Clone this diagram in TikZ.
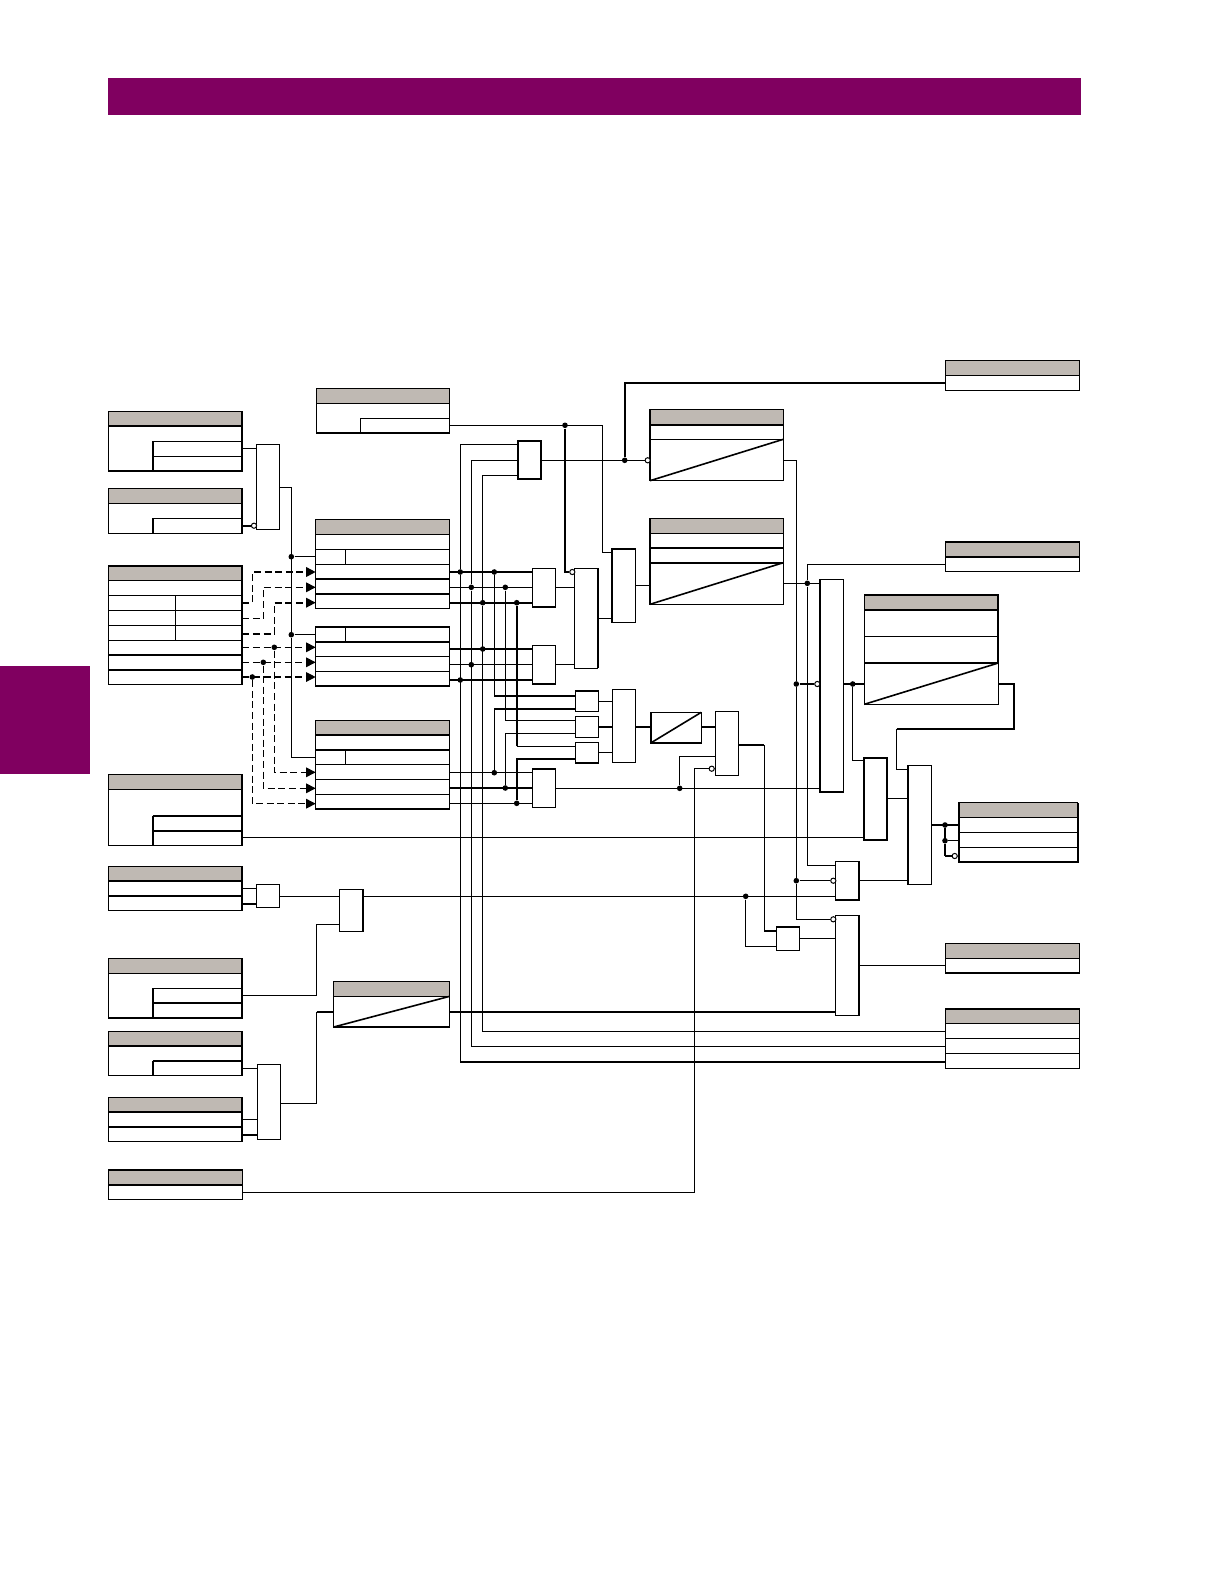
\documentclass[tikz,border=0pt]{standalone}
\usepackage{amsmath, amssymb}
\usetikzlibrary{calc,arrows.meta}
\definecolor{bandplum}{HTML}{800060}
\definecolor{headgray}{HTML}{BFB9B3}
\tikzset{
  wire/.style={line width=0.55pt},
  heavy/.style={line width=1pt},
  ramp/.style={line width=0.8pt},
  dashwire/.style={line width=0.6pt, dash pattern=on 3.5pt off 1.8pt},
  gatebox/.style={draw, line width=0.55pt, inner sep=0pt, outer sep=0pt},
  tableframe/.style={draw, line width=0.6pt, inner sep=0pt, outer sep=0pt},
  jdot/.style={circle, fill=black, inner sep=0pt, minimum size=2.8pt},
  bubble/.style={circle, draw, fill=white, line width=0.5pt, inner sep=0pt, minimum size=2.6pt},
}
% name, x1, y1, x2, y2
\newcommand{\gatebox}[6][]{%
  \node[gatebox, #1, minimum width={(#5-#3)*0.5pt}, minimum height={(#6-#4)*0.5pt}]
    (#2) at ({(#3+#5)/2},{(#4+#6)/2}) {};}
% name, x1, y1, x2, y2, bottom of the header
\newcommand{\tablebox}[7][headgray]{%
  \fill[#1] (#3,#4) rectangle (#5,#7);
  \node[tableframe, minimum width={(#5-#3)*0.5pt}, minimum height={(#6-#4)*0.5pt}]
    (#2) at ({(#3+#5)/2},{(#4+#6)/2}) {};
  \draw[wire] (#2.west |- 0,#7) -- (#2.east |- 0,#7);}
\newcommand{\tablerows}[3][wire]{%
  \foreach \rowY in {#3} \draw[#1] (#2.west |- 0,\rowY) -- (#2.east |- 0,\rowY);}
\begin{document}
\begin{tikzpicture}[x=0.5pt, y=-0.5pt, >={Triangle[length=4.8pt, width=4.8pt]}]
    \useasboundingbox (0,0) rectangle (1224,1584);
    % --- 1. Parameters ---
    \def\leftX{108.3}
    \def\leftW{242.3}
    \def\subX{152.7}
    \def\midX{315.7}
    \def\midW{449.7}
    \def\cellX{345.7}
    \def\rightX{945.3}
    \def\rightW{1079.7}
    % --- 2. Page band and tab ---
    \fill[bandplum] (108,78) rectangle (1081,115);
    \fill[bandplum] (0,666) rectangle (90,773.7);
    % --- 3. Tables, left column ---
    \tablebox{tA}{\leftX}{411.7}{\leftW}{470.7}{426}
    \foreach \rowY in {441.3,456.3} \draw[wire] (\subX,\rowY) -- (tA.east |- 0,\rowY);
    \draw[heavy] (\subX,441.3) -- (\subX,470.7);
    \draw[heavy] (tA.north east) -- (tA.south east) -- (tA.south west);
    \tablebox{tB}{\leftX}{488.7}{\leftW}{533.3}{503.3}
    \draw[wire] (\subX,518.3) -- (tB.east |- 0,518.3);
    \draw[heavy] (\subX,518.3) -- (\subX,533.3);
    \draw[heavy] (tB.north east) -- (tB.south east);
    \tablebox{tC}{\leftX}{566}{\leftW}{684.3}{580.3}
    \tablerows{tC}{595.3,610.3,625.3,640.3}
    \tablerows[heavy]{tC}{655.3,670}
    \draw[wire] (175.3,595.3) -- (175.3,640.3);
    \draw[heavy] (tC.north west) -- (tC.north east) -- (tC.south east);
    \tablebox{tD}{\leftX}{774.7}{\leftW}{845.3}{789.3}
    \foreach \rowY in {816,831} \draw[heavy] (\subX,\rowY) -- (tD.east |- 0,\rowY);
    \draw[heavy] (\subX,816) -- (\subX,845.3);
    \draw[heavy] (tD.north east) -- (tD.south east);
    \tablebox{tE}{\leftX}{866.7}{\leftW}{910.3}{881}
    \tablerows[heavy]{tE}{881,896}
    \draw[heavy] (tE.north east) -- (tE.south east);
    \tablebox{tF}{\leftX}{958.3}{\leftW}{1017.7}{973.3}
    \draw[wire] (\subX,988.3) -- (tF.east |- 0,988.3);
    \draw[heavy] (\subX,1003) -- (tF.east |- 0,1003);
    \draw[heavy] (\subX,988.3) -- (\subX,1017.7);
    \draw[heavy] (tF.north east) -- (tF.south east) -- (tF.south west);
    \tablebox{tG}{\leftX}{1031.3}{\leftW}{1075.3}{1046}
    \tablerows[heavy]{tG}{1046}
    \draw[heavy] (\subX,1060.7) -- (tG.east |- 0,1060.7);
    \draw[heavy] (\subX,1060.7) -- (\subX,1075.3);
    \draw[heavy] (tG.north east) -- (tG.south east);
    \tablebox{tH}{\leftX}{1097.3}{\leftW}{1141.3}{1112}
    \tablerows[heavy]{tH}{1112,1126.7}
    \draw[heavy] (tH.north east) -- (tH.south east);
    \tablebox{tJ}{\leftX}{1170}{\leftW}{1199.3}{1185}
    \tablerows[heavy]{tJ}{1185}
    \draw[heavy] (tJ.north west) -- (tJ.north east);
    % --- 4. Tables, middle column ---
    \tablebox{tTop}{316.7}{388.7}{\midW}{433}{403.3}
    \draw[wire] (360.3,418.3) -- (tTop.east |- 0,418.3);
    \draw[wire] (360.3,418.3) -- (360.3,433);
    \draw[heavy] (tTop.south west) -- (tTop.south east);
    \tablebox{tK}{\midX}{519.7}{\midW}{608.3}{534.3}
    \tablerows{tK}{549.3,564.3}
    \tablerows[heavy]{tK}{579,594}
    \draw[wire] (\cellX,549.3) -- (\cellX,564.3);
    \tablebox[white]{tL}{\midX}{627}{\midW}{686}{641.7}
    \tablerows[heavy]{tL}{641.7}
    \tablerows{tL}{656.3,671.3}
    \draw[wire] (\cellX,627) -- (\cellX,641.7);
    \draw[heavy] (tL.north west) -- (tL.north east);
    \tablebox{tM}{\midX}{720.7}{\midW}{809}{734.7}
    \tablerows[heavy]{tM}{734.7,749.7}
    \tablerows{tM}{764.3,779.3,794.3}
    \draw[wire] (\cellX,749.7) -- (\cellX,764.3);
    \tablebox{tN}{333.7}{981.3}{\midW}{1027}{996.3}
    \draw[ramp] (tN.south west) -- (tN.east |- 0,996.3);
    % --- 5. Tables with a ramp, centre ---
    \tablebox{tP}{650}{409.7}{783.3}{480.7}{424.7}
    \tablerows[heavy]{tP}{424.7}
    \tablerows{tP}{439.3}
    \draw[ramp] (tP.south west) -- (tP.east |- 0,439.3);
    \tablebox{tQ}{650}{518.7}{783.3}{604.3}{533.3}
    \tablerows[heavy]{tQ}{548,562.7}
    \draw[ramp] (tQ.south west) -- (tQ.east |- 0,562.7);
    \tablebox{tR}{864.3}{595}{998.3}{704.3}{610}
    \tablerows[heavy]{tR}{610}
    \tablerows{tR}{636.3,663}
    \draw[heavy] (tR.north west) -- (tR.north east) -- (tR.east |- 0,663);
    \draw[ramp] (tR.south west) -- (tR.east |- 0,663);
    % --- 6. Tables, right column ---
    \tablebox{tS}{\rightX}{360.7}{\rightW}{390.3}{375.3}
    \tablebox{tT}{\rightX}{542}{\rightW}{571.3}{556.7}
    \tablerows[heavy]{tT}{556.7}
    \draw[heavy] (tT.north west) -- (tT.north east);
    \tablebox{tU}{958.7}{802.7}{1077.7}{862}{817.3}
    \tablerows{tU}{832.3,847.3}
    \draw[heavy] (tU.north west) -- (tU.south west) -- (tU.south east) -- (tU.north east);
    \tablebox{tV}{\rightX}{943.7}{\rightW}{973}{958.3}
    \draw[heavy] (tV.south west) -- (tV.south east);
    \tablebox{tW}{\rightX}{1008.7}{\rightW}{1068.3}{1023.3}
    \tablerows{tW}{1038.3,1053.3}
    \draw[heavy] (tW.north west) -- (tW.north east);
    % --- 7. Gates ---
    \gatebox{gA}{256.3}{444.3}{279.7}{529.7}
    \gatebox{gX}{256.3}{884.3}{279.7}{907.7}
    \gatebox{gRr}{339.3}{889.3}{363.3}{931.3}
    \gatebox{gS}{257.3}{1064.3}{280.7}{1139.3}
    \gatebox[heavy]{gC}{517.7}{440.7}{541.3}{479.3}
    \gatebox{gP}{532.3}{568.3}{555.7}{607}
    \gatebox{gQ}{532.3}{645.3}{555.7}{684}
    \gatebox{gI}{532.3}{769}{555.7}{807.3}
    \gatebox{gE}{574.3}{568.3}{597.7}{668.3}
    \gatebox{gD}{611.7}{549}{635.3}{622.3}
    \gatebox{gOa}{575.3}{690.7}{598.3}{711.3}
    \gatebox{gOb}{575.3}{716.3}{598.3}{737.3}
    \gatebox{gOc}{575.3}{742.3}{598.3}{763.3}
    \gatebox{gNn}{612.3}{689.3}{635.3}{762.3}
    \gatebox[line width=0.8pt]{gConv}{650.7}{712.3}{701.3}{743}
    \gatebox{gMm}{715.3}{711.3}{738.3}{775.3}
    \gatebox{gF}{819.7}{579.7}{843.3}{792}
    \gatebox[heavy]{gJ}{864}{758}{887.3}{840.3}
    \gatebox{gKk}{907.7}{765.7}{931.7}{884.3}
    \gatebox{gH}{835.3}{861.3}{859.3}{900}
    \gatebox{gLl}{776.3}{926.7}{799.7}{950.3}
    \gatebox{gBig}{835.3}{915.3}{859.3}{1015.3}
    \draw[heavy] (gP.south west) -- (gP.south east);
    \draw[heavy] (gQ.south west) -- (gQ.south east);
    \draw[heavy] (gI.north west) -- (gI.north east);
    \draw[heavy] (gE.north east) -- (gE.south east);
    \draw[heavy] (gD.south west) -- (gD.north west) -- (gD.north east);
    \draw[heavy] (gOa.north west) -- (gOa.north east);
    \draw[heavy] (gOc.south west) -- (gOc.south east);
    \draw[heavy] (gF.north west) -- (gF.south west) -- (gF.south east);
    \draw[heavy] (gKk.north west) -- (gKk.south west);
    \draw[heavy] (gH.north east) -- (gH.south east) -- (gH.south west);
    \draw[heavy] (gLl.north west) -- (gLl.north east);
    \draw[heavy] (gBig.north east) -- (gBig.south east);
    \draw[heavy] (gRr.north east) -- (gRr.south east);
    \draw[ramp] (gConv.south west) -- (gConv.north east);
    % --- 8. Junctions ---
    \node[jdot] (jSa) at (291.3,556.7) {};
    \node[jdot] (jSb) at (291.3,634.7) {};
    \node[jdot] (jDa) at (274.3,647.3) {};
    \node[jdot] (jDb) at (263.3,662.3) {};
    \node[jdot] (jDc) at (252.3,677) {};
    \node[jdot] (jAa) at (460.3,572) {};
    \node[jdot] (jAb) at (471.3,587.3) {};
    \node[jdot] (jAc) at (482.7,602.7) {};
    \node[jdot] (jBa) at (482.7,649) {};
    \node[jdot] (jBb) at (471.3,664.7) {};
    \node[jdot] (jBc) at (460.3,680) {};
    \node[jdot] (jCa) at (494.3,572) {};
    \node[jdot] (jCb) at (505.3,587.3) {};
    \node[jdot] (jCc) at (516.7,602.7) {};
    \node[jdot] (jEa) at (494.3,772.7) {};
    \node[jdot] (jEb) at (505.3,788) {};
    \node[jdot] (jEc) at (516.7,803.3) {};
    \node[jdot] (jTop) at (565,425.3) {};
    \node[jdot] (jOut) at (624.7,460.3) {};
    \node[jdot] (jN) at (679.7,788.3) {};
    \node[jdot] (jL) at (745.7,896.3) {};
    \node[jdot] (jFa) at (796.3,684) {};
    \node[jdot] (jFb) at (796.3,880.7) {};
    \node[jdot] (jG) at (807.3,583.3) {};
    \node[jdot] (jM) at (852.7,684) {};
    \node[jdot] (jKa) at (945,825) {};
    \node[jdot] (jKb) at (945,840.7) {};
    % --- 9. Left side wires ---
    \node[bubble] (bB) at (254,525.7) {};
    \draw[wire] (tA.east |- 0,448.7) -- (gA.west |- 0,448.7);
    \draw[heavy] (tB.east |- bB) -- (bB);
    \draw[wire] (gA.east |- 0,487.3) -| (jSb) |- (tM.west |- 0,757.7);
    \draw[wire] (jSa) -- (tK.west |- jSa);
    \draw[wire] (jSb) -- (tL.west |- jSb);
    \draw[dashwire,->, line width=0.8pt] (tC.east |- 0,602.7) -- (252.3,602.7) |- (tK.west |- 0,572);
    \draw[dashwire,->] (tC.east |- 0,618.7) -- (263.3,618.7) |- (tK.west |- 0,587.3);
    \draw[dashwire,->, line width=0.8pt] (tC.east |- 0,634) -- (274.3,634) |- (tK.west |- 0,602.7);
    \draw[dashwire,->] (tC.east |- jDa) -- (tL.west |- jDa);
    \draw[dashwire,->] (tC.east |- jDb) -- (tL.west |- jDb);
    \draw[dashwire,->] (tC.east |- jDc) -- (tL.west |- jDc);
    \draw[dashwire,->] (jDa) |- (tM.west |- 0,772.3);
    \draw[dashwire,->] (jDb) |- (tM.west |- 0,788.3);
    \draw[dashwire,->] (jDc) |- (tM.west |- 0,803.7);
    \draw[wire] (tD.east |- 0,837.3) -- (gJ.west |- 0,837.3);
    \draw[wire] (tE.east |- 0,888.3) -- (gX.west |- 0,888.3);
    \draw[heavy] (tE.east |- 0,903.7) -- (gX.west |- 0,903.7);
    \draw[wire] (gX.east |- 0,896.3) -- (gRr.west |- 0,896.3);
    \draw[wire] (gRr.east |- jL) -- (gH.west |- jL);
    \draw[wire] (tF.east |- 0,995.3) -- (316.7,995.3) -- (316.7,924.3) -- (gRr.west |- 0,924.3);
    \draw[wire] (tG.east |- 0,1068.3) -- (gS.west |- 0,1068.3);
    \draw[wire] (tH.east |- 0,1119.3) -- (gS.west |- 0,1119.3);
    \draw[heavy] (tH.east |- 0,1134.7) -- (gS.west |- 0,1134.7);
    \draw[wire] (gS.east |- 0,1103.3) -- (316.7,1103.3) -- (316.7,1012);
    \draw[heavy] (316.7,1012) -- (tN.west |- 0,1012);
    \draw[heavy] (tN.east |- 0,1012) -- (gBig.west |- 0,1012);
    % --- 10. Buses ---
    \draw[heavy] (tK.east |- jAa) -- (gP.west |- jAa);
    \draw[wire] (tK.east |- jAb) -- (gP.west |- jAb);
    \draw[heavy] (tK.east |- jAc) -- (gP.west |- jAc);
    \draw[wire] (tL.east |- jBa) -- (gQ.west |- jBa);
    \draw[wire] (tL.east |- jBb) -- (gQ.west |- jBb);
    \draw[wire] (tL.east |- jBc) -- (gQ.west |- jBc);
    \draw[wire] (tM.east |- jEa) -- (gI.west |- jEa);
    \draw[wire] (tM.east |- jEb) -- (gI.west |- jEb);
    \draw[wire] (tM.east |- jEc) -- (gI.west |- jEc);
    \draw[wire] (gC.west |- 0,444.3) -| (jAa) |- (tW.west |- 0,1061.7);
    \draw[heavy] (jBc |- 0,1061.7) -- (tW.west |- 0,1061.7);
    \draw[wire] (gC.west |- 0,460.3) -| (jAb) |- (tW.west |- 0,1046.3);
    \draw[wire] (gC.west |- 0,475.7) -| (jAc) |- (tW.west |- 0,1031.3);
    \draw[wire] (jCa) |- (gOa.west |- 0,695.7);
    \draw[heavy] (jCa |- 0,695.7) -- (gOa.west |- 0,695.7);
    \draw[wire] (jEa) |- (gOa.west |- 0,709);
    \draw[heavy] (jEa |- 0,709) -- (gOa.west |- 0,709);
    \draw[wire] (jCb) |- (gOb.west |- 0,720.3);
    \draw[wire] (jEb) |- (gOb.west |- 0,733.3);
    \draw[heavy] (jCc) -- (jCc |- 0,746.3);
    \draw[wire] (jCc |- 0,746.3) -- (gOc.west |- 0,746.3);
    \draw[heavy] (jEc) |- (gOc.west |- 0,759);
    % --- 11. Centre wires ---
    \node[bubble] (bP) at (647.7,460.3) {};
    \node[bubble] (bE) at (572.3,572) {};
    \node[bubble] (bM) at (711.7,768.7) {};
    \draw[wire] (tTop.east |- jTop) -- (602.3,425.3) -- (602.3,552.3) -- (gD.west |- 0,552.3);
    \draw[wire] (jTop) |- (bE);
    \draw[wire] (gC.east |- bP) -- (bP);
    \draw[heavy] (jOut) |- (tS.west |- 0,383);
    \draw[wire] (gP.east |- 0,587.3) -- (gE.west |- 0,587.3);
    \draw[wire] (gQ.east |- 0,664.3) -- (gE.west |- 0,664.3);
    \draw[wire] (gE.east |- 0,618.3) -- (gD.west |- 0,618.3);
    \draw[wire] (gD.east |- 0,585.3) -- (tQ.west |- 0,585.3);
    \draw[wire] (gOa.east |- 0,701.3) -- (gNn.west |- 0,701.3);
    \draw[heavy] (gOb.east |- 0,727) -- (gNn.west |- 0,727);
    \draw[wire] (gOc.east |- 0,752.3) -- (gNn.west |- 0,752.3);
    \draw[heavy] (gNn.east |- 0,727) -- (gConv.west |- 0,727);
    \draw[heavy] (gConv.east |- 0,727) -- (gMm.west |- 0,727);
    \draw[wire] (gI.east |- jN) -- (gF.west |- jN);
    \draw[wire] (jN) |- (gMm.west |- 0,756.3);
    \draw[wire] (tJ.east |- 0,1192.3) -- (694.3,1192.3) -- (694.3,768.7) -- (bM);
    \draw[heavy] (gMm.east |- 0,745) -- (764.3,745);
    \draw[wire] (764.3,745) -- (764.3,930.7);
    \draw[heavy] (764.3,930.7) -- (gLl.west |- 0,930.7);
    \draw[wire] (jL) |- (gLl.west |- 0,946.3);
    \draw[wire] (gLl.east |- 0,938.3) -- (gBig.west |- 0,938.3);
    % --- 12. Right side wires ---
    \node[bubble] (bF) at (817.3,684) {};
    \node[bubble] (bH) at (833.3,880.7) {};
    \node[bubble] (bBig) at (833.3,919.3) {};
    \node[bubble] (bU) at (954.7,856) {};
    \draw[wire] (tP.east |- 0,460.3) -| (jFa) -- (jFb) |- (bBig);
    \draw[heavy] (jFa) -- (bF);
    \draw[wire] (jFb) -- (bH);
    \draw[wire] (tQ.east |- jG) -- (gF.west |- jG);
    \draw[wire] (tT.west |- 0,564.3) -| (jG) |- (gH.west |- 0,865.3);
    \draw[heavy] (gF.east |- jM) -- (tR.west |- jM);
    \draw[wire] (jM) |- (gJ.west |- 0,760.3);
    \draw[heavy] (tR.east |- 0,684) -- (1014.3,684) -- (1014.3,728.7) -- (896.7,728.7);
    \draw[wire] (896.7,728.7) |- (gKk.west |- 0,769.3);
    \draw[wire] (gJ.east |- 0,798.3) -- (gKk.west |- 0,798.3);
    \draw[heavy] (gKk.east |- jKa) -- (tU.west |- jKa);
    \draw[wire] (jKa) -- (jKb) -- (jKb |- bU);
    \draw[heavy] (jKb |- bU) -- (bU);
    \draw[wire] (jKb) -- (tU.west |- jKb);
    \draw[wire] (gH.east |- bH) -- (gKk.west |- bH);
    \draw[wire] (gBig.east |- 0,965.3) -- (tV.west |- 0,965.3);
\end{tikzpicture}
\end{document}
